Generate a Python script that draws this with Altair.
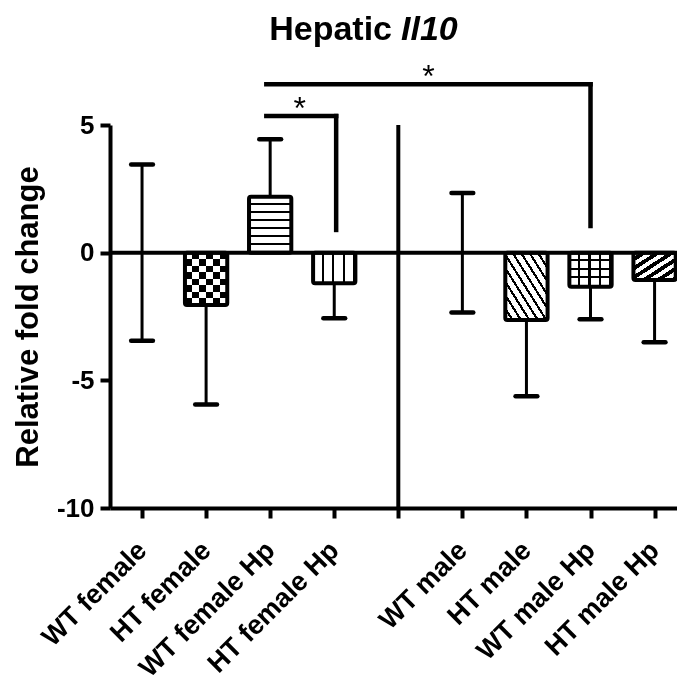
import altair as alt
import pandas as pd

# ---------------- data ----------------
categories = ["WT female", "HT female", "WT female Hp", "HT female Hp",
              "WT male", "HT male", "WT male Hp", "HT male Hp"]
positions = [0, 1, 2, 3, 5, 6, 7, 8]
means = [0.0, -2.05, 2.19, -1.20, 0.0, -2.64, -1.33, -1.07]
sems = [3.45, 3.90, 2.25, 1.37, 2.34, 2.98, 1.28, 2.44]

y_ticks = [-10, -5, 0, 5]
x_slots = [0, 1, 2, 3, 4, 5, 6, 7, 8]
divider_x = [4]
divider_y = [-10]
divider_y2 = [5]

sig_from = [1.94, 1.94]
sig_to = [3.03, 7.0]
sig_level = [5.35, 6.6]
sig_drop = [0.89, 1.04]
sig_star_x = [2.46, 4.47]
sig_text = ["*", "*"]

title_parts = ["Hepatic", "Il10"]

# ---------------- style ----------------
FONT = "Liberation Sans"
BAR_HALF = 0.33
CAP_HALF = 0.17

def stripes(n, dark_frac, direction, dark="black", light="white"):
    x1, y1, x2, y2 = direction
    stops = []
    for i in range(n):
        a = i / n
        m = (i + 1 - dark_frac) / n
        b = (i + 1) / n
        stops += [(a, light), (m, light), (m, dark), (b, dark)]
    return alt.Gradient(
        gradient="linear",
        stops=[alt.GradientStop(offset=round(o, 4), color=c) for o, c in stops],
        x1=x1, y1=y1, x2=x2, y2=y2,
    )

VERT = (0, 0, 1, 0)
HORZ = (0, 0, 0, 1)

pattern_layers = {
    "HT female": [
        dict(fill=stripes(3, 0.5, VERT)),
        dict(fill=stripes(4, 0.5, HORZ, dark="white", light="transparent"), blend="difference"),
    ],
    "WT female Hp": [dict(fill=stripes(7, 0.25, HORZ))],
    "HT female Hp": [dict(fill=stripes(4, 0.2, VERT))],
    "HT male": [dict(fill=stripes(10, 0.3, (0, 1, 1, 0)))],
    "WT male Hp": [
        dict(fill=stripes(4, 0.22, VERT)),
        dict(fill=stripes(4, 0.22, HORZ, light="transparent")),
    ],
    "HT male Hp": [dict(fill=stripes(6, 0.5, (0, 0, 1, 1)))],
}

# ---------------- tables ----------------
df = pd.DataFrame({"cat": categories, "pos": positions, "mean": means, "sem": sems})
df["xl"] = df["pos"] - BAR_HALF
df["xr"] = df["pos"] + BAR_HALF
df["zero"] = 0.0
df["lo"] = [m - s if m <= 0 else m for m, s in zip(means, sems)]
df["hi"] = [m + s if m >= 0 else m for m, s in zip(means, sems)]

caps = []
for p, m, s in zip(positions, means, sems):
    if m <= 0:
        caps.append({"pos": p, "y": m - s})
    if m >= 0:
        caps.append({"pos": p, "y": m + s})
caps = pd.DataFrame(caps)
caps["xl"] = caps["pos"] - CAP_HALF
caps["xr"] = caps["pos"] + CAP_HALF

sig = pd.DataFrame({"x1": sig_from, "x2": sig_to, "lvl": sig_level,
                    "drop": sig_drop, "sx": sig_star_x, "t": sig_text})
div = pd.DataFrame({"x": divider_x, "y": divider_y, "y2": divider_y2})

slot_labels = [""] * len(x_slots)
for c, p in zip(categories, positions):
    slot_labels[p] = c
label_expr = "[" + ",".join("'" + s + "'" for s in slot_labels) + "][datum.value]"

xscale = alt.Scale(domain=[-0.5, 8.35], nice=False, zero=False)
yscale = alt.Scale(domain=[-10, 5], nice=False)

x_axis = alt.Axis(values=x_slots, labelExpr=label_expr, labelAngle=-45,
                  labelAlign="right", labelBaseline="middle", labelPadding=28,
                  labelFontSize=27, labelFontWeight="bold", labelFont=FONT,
                  labelColor="black", labelOverlap=False, labelFlush=False,
                  labelBound=False, labelLimit=0,
                  tickSize=10, tickWidth=4, tickColor="black",
                  domainColor="black", domainWidth=4, grid=False, title=None)
y_axis = alt.Axis(values=y_ticks, labelExpr="'' + datum.value",
                  labelFontSize=26, labelFontWeight="bold",
                  labelFont=FONT, labelColor="black", labelPadding=6,
                  tickSize=10, tickWidth=4, tickColor="black",
                  domainColor="black", domainWidth=4, grid=False,
                  title="Relative fold change", titleFont=FONT, titleFontSize=31,
                  titleFontWeight="bold", titleColor="black", titlePadding=12)

base = alt.Chart(df)

axes = base.mark_point(opacity=0).encode(
    x=alt.X("pos:Q", scale=xscale, axis=x_axis),
    y=alt.Y("mean:Q", scale=yscale, axis=y_axis),
)

layers = [axes]
for cat, specs in pattern_layers.items():
    for spec in specs:
        layers.append(
            base.transform_filter(alt.datum.cat == cat).mark_rect(
                strokeWidth=0, **spec
            ).encode(x="xl:Q", x2="xr:Q", y="mean:Q", y2="zero:Q")
        )

outline = base.transform_filter(alt.datum.mean != 0).mark_rect(
    fill="transparent", stroke="black", strokeWidth=4, strokeJoin="round",
    cornerRadius=2
).encode(x="xl:Q", x2="xr:Q", y="mean:Q", y2="zero:Q")

zero_line = alt.Chart(pd.DataFrame({"z": [0]})).mark_rule(
    color="black", strokeWidth=4
).encode(y="z:Q")

err = base.mark_rule(color="black", strokeWidth=3).encode(
    x="pos:Q", y="lo:Q", y2="hi:Q")

cap_marks = alt.Chart(caps).mark_rule(color="black", strokeWidth=4.5, strokeCap="round").encode(
    x="xl:Q", x2="xr:Q", y="y:Q")

divider = alt.Chart(div).mark_rule(color="black", strokeWidth=4).encode(
    x="x:Q", y="y:Q", y2="y2:Q")

sig_h = alt.Chart(sig).mark_rule(color="black", strokeWidth=4.5, strokeCap="square").encode(
    x="x1:Q", x2="x2:Q", y="lvl:Q")
sig_v = alt.Chart(sig).mark_rule(color="black", strokeWidth=4.5, strokeCap="square").encode(
    x="x2:Q", y="lvl:Q", y2="drop:Q")
stars = alt.Chart(sig).mark_text(font=FONT, fontSize=32, color="black",
                                 baseline="alphabetic", dy=3).encode(
    x="sx:Q", y="lvl:Q", text="t:N")

title1 = alt.Chart(pd.DataFrame({"t": [title_parts[0]]})).mark_text(
    font=FONT, fontSize=34, fontWeight="bold", color="black",
    align="right", baseline="alphabetic").encode(
    x=alt.value(282), y=alt.value(-85), text="t:N")
title2 = alt.Chart(pd.DataFrame({"t": [title_parts[1]]})).mark_text(
    font=FONT, fontSize=34, fontWeight="bold", fontStyle="italic", color="black",
    align="left", baseline="alphabetic").encode(
    x=alt.value(291), y=alt.value(-85), text="t:N")

layers += [outline, zero_line, err, cap_marks, divider, sig_h, sig_v, stars, title1, title2]

chart = alt.layer(*layers).properties(
    width=567, height=383,
    autosize=alt.AutoSizeParams(type="none"),
    padding={"left": 102, "top": 117, "right": 0, "bottom": 176},
).configure_view(stroke=None)

chart.save("out.html", embed_options={"renderer": "svg", "actions": False})
